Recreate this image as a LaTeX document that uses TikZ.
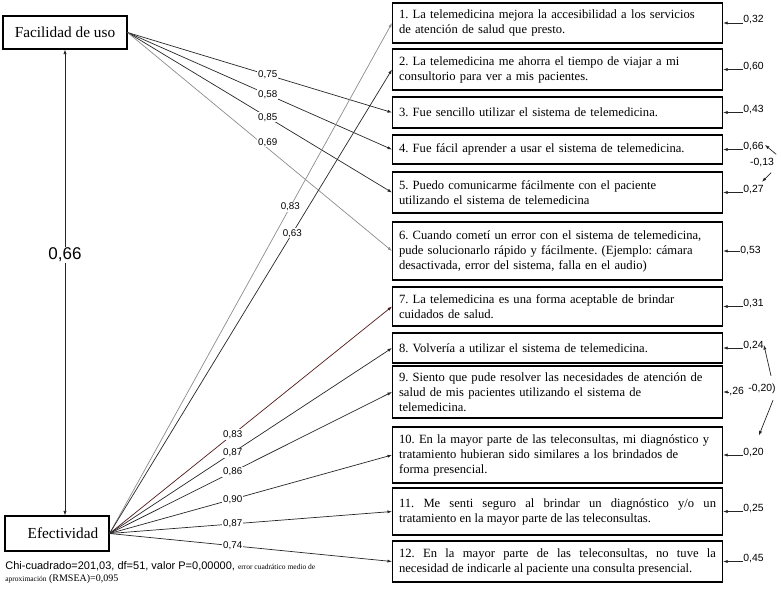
\documentclass[tikz,border=0pt]{standalone}
\usepackage{fontspec}
\setmainfont{Liberation Serif}
\setsansfont{Liberation Sans}
\usetikzlibrary{arrows.meta,positioning}

\definecolor{linkred}{RGB}{80,25,25}
\frenchspacing

\begin{document}
\begin{tikzpicture}[
    x = 1pt, y = -1pt,
    > = {Latex[length=4.5pt,width=3.2pt]},
    line width = 0.7pt,
    factor/.style={draw, line width=1.1pt, inner sep=0pt, font=\fontsize{15.3}{18}\selectfont},
    item/.style={draw, line width=1.1pt, anchor=west, text width=317pt, inner xsep=6.5pt,
        inner ysep=0pt, align=left, font=\fontsize{12.6}{15}\selectfont},
    load/.style={fill=white, inner sep=1pt, font=\sffamily\fontsize{9.8}{11}\selectfont},
    err/.style={anchor=base west, inner sep=0pt, font=\sffamily\fontsize{10.4}{12}\selectfont},
    lnk/.style={draw=black!85},
    lnkgray/.style={draw=black!45}
]
    \useasboundingbox (0,0) rectangle (781,591);

    % latent factors
    \node[factor, minimum width=124pt, minimum height=33pt] (fac) at (65,32.5) {Facilidad de uso};
    \node[factor, minimum width=104pt, minimum height=35pt] (efe) at (57,533.5) {\hspace*{12pt}Efectividad};

    % items
    \node[item, minimum height=40pt] (i1) at (392,23) {1. La telemedicina mejora la accesibilidad a los servicios\\ de atención de salud que presto.};
    \node[item, minimum height=41pt] (i2) at (392,69.5) {2. La telemedicina me ahorra el tiempo de viajar a mi\\ consultorio para ver a mis pacientes.};
    \node[item, minimum height=31pt] (i3) at (392,112.5) {3. Fue sencillo utilizar el sistema de telemedicina.};
    \node[item, minimum height=29pt] (i4) at (392,149.5) {4. Fue fácil aprender a usar el sistema de telemedicina.};
    \node[item, minimum height=41pt] (i5) at (392,192.5) {5. Puedo comunicarme fácilmente con el paciente\\ utilizando el sistema de telemedicina};
    \node[item, minimum height=58pt] (i6) at (392,251) {6. Cuando cometí un error con el sistema de telemedicina,\\ pude solucionarlo rápido y fácilmente. (Ejemplo: cámara\\ desactivada, error del sistema, falla en el audio)};
    \node[item, minimum height=39pt] (i7) at (392,306.5) {7. La telemedicina es una forma aceptable de brindar\\ cuidados de salud.};
    \node[item, minimum height=30pt] (i8) at (392,348) {8. Volvería a utilizar el sistema de telemedicina.};
    \node[item, minimum height=52pt] (i9) at (392,392) {9. Siento que pude resolver las necesidades de atención de\\ salud de mis pacientes utilizando el sistema de\\ telemedicina.};
    \node[item, minimum height=56pt] (i10) at (392,455) {10. En la mayor parte de las teleconsultas, mi diagnóstico y\\ tratamiento hubieran sido similares a los brindados de\\ forma presencial.};
    \node[item, minimum height=47pt, align=justify] (i11) at (392,511.5) {11. Me senti seguro al brindar un diagnóstico y/o un\linebreak tratamiento en la mayor parte de las teleconsultas.};
    \node[item, minimum height=41pt, align=justify] (i12) at (392,561.5) {12. En la mayor parte de las teleconsultas, no tuve la\linebreak necesidad de indicarle al paciente una consulta presencial.};

    % correlation between factors
    \draw[<->, lnk] (fac.south) -- (fac.south |- efe.north)
        node[pos=0.44, fill=white, inner sep=1pt, font=\sffamily\fontsize{17}{20}\selectfont] {0,66};

    % loadings
    \path[->]
        (fac.east) edge[lnk] node[load, pos=0.53] {0,75} (i3.west)
        (fac.east) edge[lnk] node[load, pos=0.53] {0,58} (i4.west)
        (fac.east) edge[lnk] node[load, pos=0.53] {0,85} (i5.west)
        (fac.east) edge[lnkgray] node[load, pos=0.53, yshift=6pt] {0,69} (i6.west)
        (efe.east) edge[lnkgray] node[load, pos=0.64] {0,83} (i1.west)
        (efe.east) edge[lnk] node[load, pos=0.647] {0,63} (i2.west)
        (efe.east) edge[draw=linkred] node[load, pos=0.436] {0,83} (i7.west)
        (efe.east) edge[lnk] node[load, pos=0.436] {0,87} (i8.west)
        (efe.east) edge[lnk] node[load, pos=0.436] {0,86} (i9.west)
        (efe.east) edge[lnk] node[load, pos=0.436] {0,90} (i10.west)
        (efe.east) edge[lnk] node[load, pos=0.436] {0,87} (i11.west)
        (efe.east) edge[lnk] node[load, pos=0.436] {0,74} (i12.west);

    % error terms
    \node[err] (r1) at (743,23) {0,32};
    \node[err] (r2) at (743,69.5) {0,60};
    \node[err] (r3) at (743,112.5) {0,43};
    \node[err] (r4) at (743,149.5) {0,66};
    \node[err] (r5) at (743,192.5) {0,27};
    \node[err, anchor=west] (r6) at (740,251) {0,53};
    \node[err] (r7) at (743,306.5) {0,31};
    \node[err] (r8) at (743,348) {0,24};
    \node[err, anchor=west] (r9) at (729,392) {,26};
    \node[err] (r10) at (743,455) {0,20};
    \node[err] (r11) at (743,511.5) {0,25};
    \node[err] (r12) at (743,561.5) {0,45};
    \foreach \i in {1,2,3,4,5,7,8,10,11,12}
        \draw[->, lnk] (r\i.base west) -- (i\i.east);
    \draw[->, lnk] (r6.west) -- (i6.east);
    \draw[->, lnk] (r9.west) -- (i9.east);

    % error covariances
    \node[err, anchor=center] (c45) at (762,163) {-0,13};
    \draw[->, lnk] ([shift={(2pt,4pt)}]c45.north east) -- ([shift={(1pt,-3pt)}]r4.north east);
    \draw[->, lnk] ([shift={(-3pt,-5pt)}]c45.south east) -- ([shift={(-2pt,3pt)}]r5.north east);
    \node[err, anchor=center] (c810) at (762,389) {-0,20)};
    \draw[->, lnk] ([shift={(9pt,8pt)}]c810.north) -- (r8.east);
    \draw[->, lnk] ([shift={(11pt,-6pt)}]c810.south) -- ([shift={(-5pt,12pt)}]r10.north east);

    % fit indices
    \node[anchor=north west, inner sep=0pt, align=left] (gof) at (5,561)
        {\sffamily\fontsize{11}{18}\selectfont Chi-cuadrado=201,03, df=51, valor P=0,00000, {\rmfamily\fontsize{7.5}{9}\selectfont error cuadrático medio de}\\
         {\rmfamily\fontsize{7.5}{9}\selectfont aproximación} (RMSEA)=0,095};
\end{tikzpicture}
\end{document}
